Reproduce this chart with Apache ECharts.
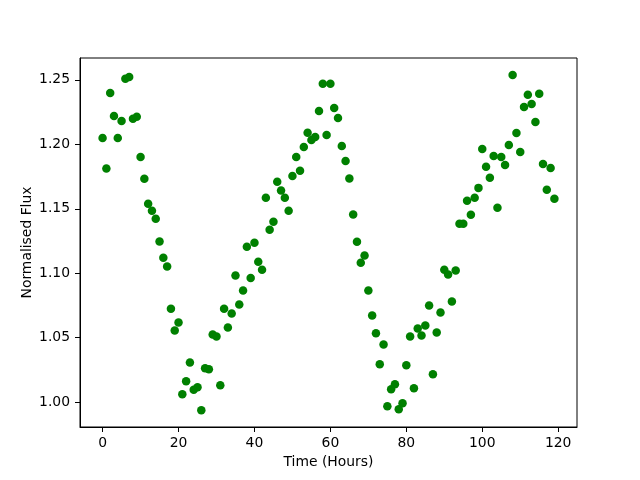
<!DOCTYPE html>
<html>
<head>
  <meta charset="UTF-8">
  <title>Normalised Flux</title>
  <script src="https://cdn.jsdelivr.net/npm/echarts@6/dist/echarts.min.js"></script>
  <style>
    html, body { margin: 0; padding: 0; background: #fff; }
    #chart { width: 640px; height: 480px; }
  </style>
</head>
<body>
  <div id="chart"></div>
  <script>
    // observation times (hours)
    const hours = [
      0, 1, 2, 3, 4, 5, 6, 7, 8, 9, 10, 11, 12, 13, 14, 15, 16, 17, 18, 19,
      20, 21, 22, 23, 24, 25, 26, 27, 28, 29, 30, 31, 32, 33, 34, 35, 36, 37, 38, 39,
      40, 41, 42, 43, 44, 45, 46, 47, 48, 49, 50, 51, 52, 53, 54, 55, 56, 57, 58, 59,
      60, 61, 62, 63, 64, 65, 66, 67, 68, 69, 70, 71, 72, 73, 74, 75, 76, 77, 78, 79,
      80, 81, 82, 83, 84, 85, 86, 87, 88, 89, 90, 91, 92, 93, 94, 95, 96, 97, 98, 99,
      100, 101, 102, 103, 104, 105, 106, 107, 108, 109, 110, 111, 112, 113, 114, 115, 116, 117, 118, 119
    ];
    // normalised flux
    const flux = [
      1.2049, 1.1812, 1.2397, 1.2219, 1.2049, 1.2180, 1.2508, 1.2521, 1.2198, 1.2214,
      1.1902, 1.1732, 1.1539, 1.1485, 1.1423, 1.1247, 1.1121, 1.1052, 1.0724, 1.0557,
      1.0619, 1.0062, 1.0162, 1.0309, 1.0097, 1.0116, 0.9938, 1.0263, 1.0255, 1.0526,
      1.0510, 1.0131, 1.0724, 1.0580, 1.0688, 1.0982, 1.0758, 1.0866, 1.1206, 1.0963,
      1.1237, 1.1090, 1.1028, 1.1585, 1.1338, 1.1399, 1.1709, 1.1642, 1.1585, 1.1485,
      1.1755, 1.1902, 1.1794, 1.1979, 1.2090, 1.2034, 1.2057, 1.2258, 1.2469, 1.2072,
      1.2469, 1.2281, 1.2204, 1.1987, 1.1871, 1.1734, 1.1456, 1.1245, 1.1082, 1.1137,
      1.0866, 1.0673, 1.0534, 1.0294, 1.0448, 0.9969, 1.0101, 1.0139, 0.9946, 0.9992,
      1.0286, 1.0510, 1.0108, 1.0572, 1.0518, 1.0595, 1.0750, 1.0217, 1.0541, 1.0696,
      1.1028, 1.0990, 1.0781, 1.1021, 1.1384, 1.1384, 1.1562, 1.1454, 1.1585, 1.1662,
      1.1964, 1.1825, 1.1740, 1.1910, 1.1508, 1.1902, 1.1840, 1.1995, 1.2538, 1.2088,
      1.1941, 1.2289, 1.2384, 1.2312, 1.2173, 1.2392, 1.1848, 1.1647, 1.1817, 1.1577
    ];
    const xTicks = [0, 20, 40, 60, 80, 100, 120];
    const yTicks = [1.00, 1.05, 1.10, 1.15, 1.20, 1.25];

    const points = [];
    for (let i = 0; i < hours.length; i++) {
      points.push([hours[i], flux[i]]);
    }

    const font = 'DejaVu Sans';
    const chart = echarts.init(document.getElementById('chart'));

    chart.setOption({
      animation: false,
      backgroundColor: '#fff',
      textStyle: { fontFamily: font },
      grid: {
        left: 80, right: 63, top: 58, bottom: 53,
        show: true, borderColor: '#000', borderWidth: 1,
        backgroundColor: 'transparent'
      },
      xAxis: {
        type: 'value',
        min: -5.95,
        max: 124.95,
        name: 'Time (Hours)',
        nameLocation: 'middle',
        nameGap: 28,
        nameMoveOverlap: false,
        nameTextStyle: { color: '#000', fontSize: 13.9, fontFamily: font },
        axisLine: { show: true, onZero: false, lineStyle: { color: '#000', width: 1 } },
        axisTick: { show: true, length: 5, customValues: xTicks, lineStyle: { color: '#000' } },
        axisLabel: {
          customValues: xTicks, margin: 9,
          color: '#000', fontSize: 13.9, fontFamily: font
        },
        splitLine: { show: false }
      },
      yAxis: {
        type: 'value',
        min: 0.9808,
        max: 1.2669,
        name: 'Normalised Flux',
        nameLocation: 'middle',
        nameGap: 46,
        nameMoveOverlap: false,
        nameTextStyle: { color: '#000', fontSize: 13.9, fontFamily: font },
        axisLine: { show: true, onZero: false, lineStyle: { color: '#000', width: 1 } },
        axisTick: { show: true, length: 5, customValues: yTicks, lineStyle: { color: '#000' } },
        axisLabel: {
          customValues: yTicks, margin: 10,
          color: '#000', fontSize: 13.9, fontFamily: font,
          formatter: v => v.toFixed(2)
        },
        splitLine: { show: false }
      },
      series: [{
        type: 'scatter',
        data: points,
        symbol: 'circle',
        symbolSize: 8.5,
        itemStyle: { color: '#008000', opacity: 1 }
      }]
    });
  </script>
</body>
</html>
